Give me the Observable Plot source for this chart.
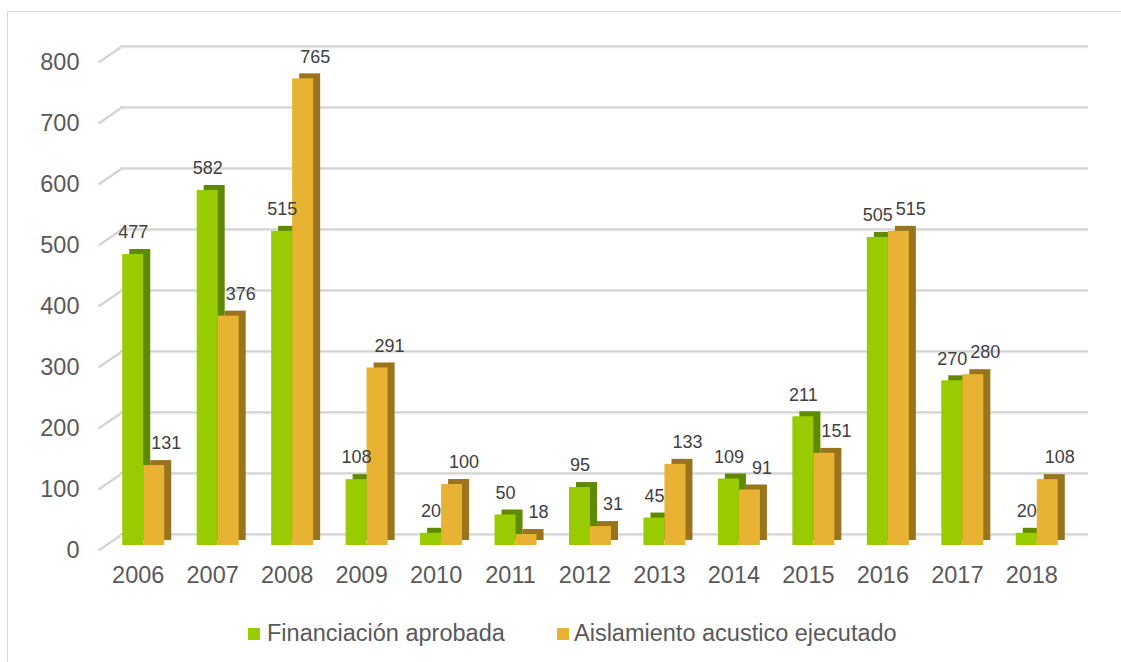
<!DOCTYPE html>
<html>
<head>
<meta charset="utf-8">
<script src="https://cdn.jsdelivr.net/npm/d3@7"></script>
<script src="https://cdn.jsdelivr.net/npm/@observablehq/plot@0.6"></script>
<style>
  html, body { margin: 0; padding: 0; background: #fff; }
  body { width: 1121px; height: 662px; position: relative; overflow: hidden; font-family: "Liberation Sans", Arial, sans-serif; }
  #frame { position: absolute; left: 7px; top: 11px; width: 1300px; height: 800px; border: 1px solid #d9d9d9; box-sizing: border-box; }
  #chart { position: absolute; left: 0; top: 0; }
  .leg { position: absolute; top: 618px; font-size: 23.5px; color: #595959; line-height: 30px; white-space: nowrap; }
  .sw { position: absolute; width: 12px; height: 12px; top: 628px; }
</style>
</head>
<body>
<div id="frame"></div>
<div id="chart"></div>
<div class="sw" style="left:248px; background:#99cc00"></div>
<div class="leg" id="leg1" style="left:267px"></div>
<div class="sw" style="left:557px; background:#e8b232"></div>
<div class="leg" id="leg2" style="left:574px"></div>
<script>
// ---- data ----
const years = ["2006","2007","2008","2009","2010","2011","2012","2013","2014","2015","2016","2017","2018"];
const financiacion = [477, 582, 515, 108, 20, 50, 95, 45, 109, 211, 505, 270, 20];
const aislamiento = [131, 376, 765, 291, 100, 18, 31, 133, 91, 151, 515, 280, 108];
const seriesNames = ["Financiación aprobada", "Aislamiento acustico ejecutado"];
const yTicks = [0, 100, 200, 300, 400, 500, 600, 700, 800];

// ---- layout ----
const W = 1121, H = 600, ML = 106, MR = 47, MT = 57, MB = 55;
const bw = (W - ML - MR) / years.length;
const barW = 21, depthX = 7, depthY = -5;
const green = "#99cc00", greenDark = "#5f8a00";
const orange = "#e8b232", orangeDark = "#9a741c";

const rowsG = years.map((y, i) => ({year: y, value: financiacion[i]}));
const rowsO = years.map((y, i) => ({year: y, value: aislamiento[i]}));

const gInL = bw / 2 - barW, gInR = bw / 2;
const oInL = bw / 2, oInR = bw / 2 - barW;

// diagonal "floor" connector symbol for the gridlines
const diag = { draw(ctx) { ctx.moveTo(-8, 5); ctx.lineTo(14, -10); } };

const plot = Plot.plot({
  width: W, height: H,
  marginLeft: ML, marginRight: MR, marginTop: MT, marginBottom: MB,
  style: { fontFamily: "'Liberation Sans', Arial, sans-serif", background: "transparent" },
  x: { type: "band", domain: years, padding: 0, round: false, axis: null },
  y: { domain: [0, 800], axis: null },
  marks: [
    // gridlines (back wall)
    Plot.ruleY(yTicks, { y: d => d, dx: 14, dy: -10.3, stroke: "#ececec", strokeWidth: 2 }),
    Plot.ruleY(yTicks, { y: d => d, dx: 14, dy: -11.3, stroke: "#d4d4d4", strokeWidth: 2 }),
    Plot.dot(yTicks, { y: d => d, frameAnchor: "left", symbol: diag, r: 5, stroke: "#d4d4d4", strokeWidth: 2.2, fill: "none" }),
    // green bars (side + front)
    Plot.barY(rowsG, { x: "year", y: "value", insetLeft: gInL, insetRight: gInR, dx: depthX, dy: depthY, fill: greenDark }),
    Plot.barY(rowsG, { x: "year", y: "value", insetLeft: gInL, insetRight: gInR, fill: green }),
    // orange bars (side + front)
    Plot.barY(rowsO, { x: "year", y: "value", insetLeft: oInL, insetRight: oInR, dx: depthX, dy: depthY, fill: orangeDark }),
    Plot.barY(rowsO, { x: "year", y: "value", insetLeft: oInL, insetRight: oInR, fill: orange }),
    // value labels
    Plot.text(rowsG, { x: "year", y: "value", text: d => String(d.value), dx: -barW / 2, dy: -22, fontSize: 18, fill: "#404040" }),
    Plot.text(rowsO, { x: "year", y: "value", text: d => String(d.value), dx: barW / 2 + 12, dy: -22, fontSize: 18, fill: "#404040" }),
    // y tick labels
    Plot.text(yTicks, { y: d => d, text: d => String(d), frameAnchor: "left", textAnchor: "end", lineAnchor: "middle", dx: -27, dy: 5, fontSize: 23.5, fill: "#595959" }),
    // x tick labels
    Plot.text(years, { x: d => d, text: d => d, frameAnchor: "bottom", lineAnchor: "middle", dx: -5.5, dy: 30, fontSize: 23.5, fill: "#595959" })
  ]
});
document.getElementById("chart").appendChild(plot);
document.getElementById("leg1").textContent = seriesNames[0];
document.getElementById("leg2").textContent = seriesNames[1];
</script>
</body>
</html>
